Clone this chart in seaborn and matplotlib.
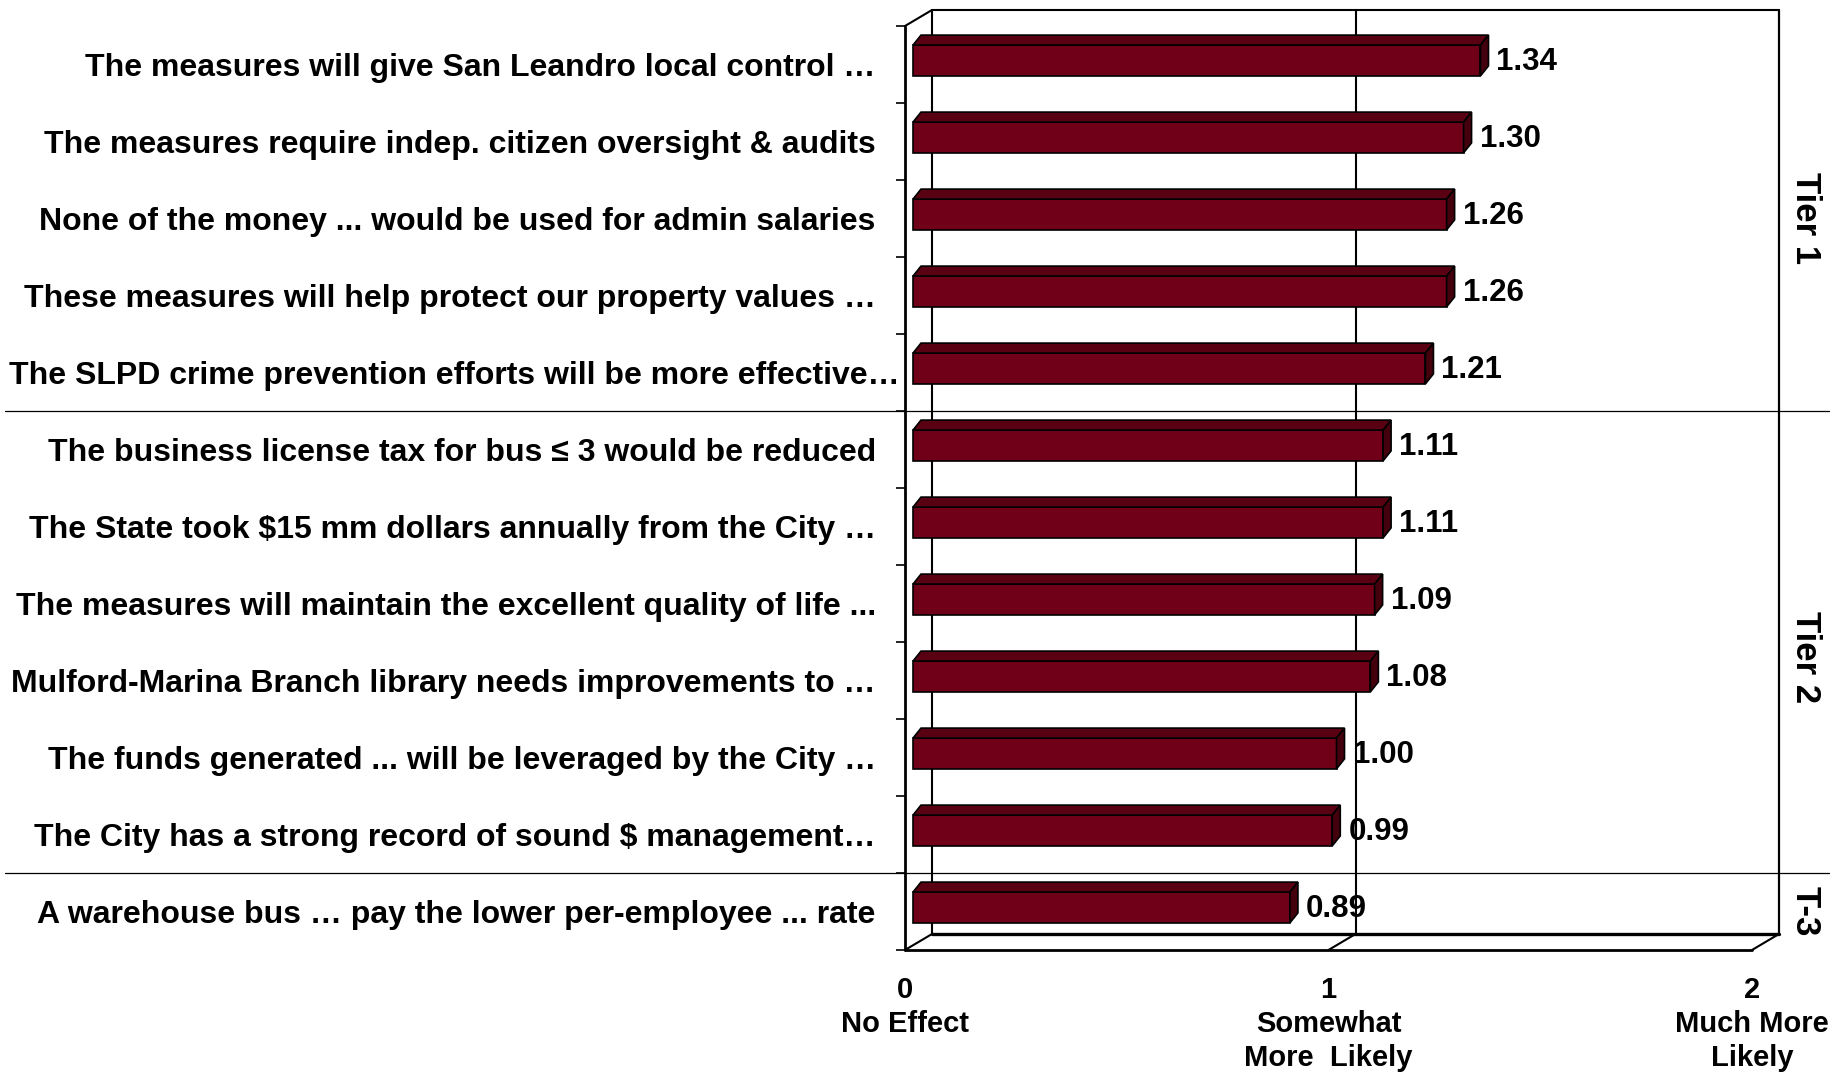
import numpy as np
import pandas as pd
import seaborn as sns
import matplotlib.pyplot as plt
import matplotlib.transforms as mtrans
from matplotlib.patches import Polygon
from matplotlib.transforms import ScaledTranslation

# Data
labels = [
    "The measures will give San Leandro local control …",
    "The measures require indep. citizen oversight & audits",
    "None of the money ... would be used for admin salaries",
    "These measures will help protect our property values …",
    "The SLPD crime prevention efforts will be more effective…",
    "The business license tax for bus ≤ 3 would be reduced",
    r"The State took \$15 mm dollars annually from the City …",
    "The measures will maintain the excellent quality of life ...",
    "Mulford-Marina Branch library needs improvements to …",
    "The funds generated ... will be leveraged by the City …",
    r"The City has a strong record of sound \$ management…",
    "A warehouse bus … pay the lower per-employee ... rate",
]
values = [1.34, 1.30, 1.26, 1.26, 1.21, 1.11, 1.11, 1.09, 1.08, 1.00, 0.99, 0.89]
tiers = ["Tier 1", "Tier 2", "T-3"]
tier_pos = [2.0, 7.7, 11.0]
tier_breaks = [4.5, 10.5]
xticks = [0, 1, 2]
xtick_labels = ["0\nNo Effect", "1\nSomewhat\nMore  Likely", "2\nMuch More\nLikely"]

sns.set_style("white")
plt.rcParams["font.family"] = ["Liberation Sans", "DejaVu Sans"]
plt.rcParams["font.weight"] = "bold"
plt.rcParams["text.color"] = "black"
plt.rcParams["xtick.color"] = "black"
plt.rcParams["ytick.color"] = "black"

FRONT = "#700018"
TOP = "#5a0013"
SIDE = "#45000e"

fig = plt.figure(figsize=(18.44, 10.75), dpi=100)
W, H = 1844, 1075
ax = fig.add_axes([905 / W, 1 - 950 / H, 847 / W, 924 / H])

df = pd.DataFrame({"label": labels, "value": values})
sns.barplot(data=df, x="value", y="label", orient="h", color=FRONT, saturation=1,
            width=0.4, edgecolor="black", linewidth=1.2, ax=ax, zorder=5)

ax.set_xlim(0, 2)
ax.set_ylim(11.5, -0.5)
for s in ax.spines.values():
    s.set_visible(False)

# pixel -> data conversions
px_x = 847 / 2
px_y = 924 / 12
sx, sy = 8 / px_x, 4 / px_y          # bar shift into the depth
dx, dy = 8 / px_x, 10 / px_y         # bar depth
bx, by = 27 / px_x, 16 / px_y        # back wall depth

bars = list(ax.patches)
for p in bars:
    p.set_x(p.get_x() + sx)
    p.set_y(p.get_y() - sy)
    x0, y0, w, h = p.get_x(), p.get_y(), p.get_width(), p.get_height()
    x1 = x0 + w
    top = [(x0, y0), (x1, y0), (x1 + dx, y0 - dy), (x0 + dx, y0 - dy)]
    side = [(x1, y0), (x1, y0 + h), (x1 + dx, y0 + h - dy), (x1 + dx, y0 - dy)]
    ax.add_patch(Polygon(top, closed=True, facecolor=TOP, edgecolor="black", lw=1.2, zorder=5))
    ax.add_patch(Polygon(side, closed=True, facecolor=SIDE, edgecolor="black", lw=1.2, zorder=5))

# value labels
for i, v in enumerate(values):
    ax.annotate(f"{v:.2f}", xy=(v, i), textcoords="offset pixels", xytext=(24, 3),
                ha="left", va="center", fontsize=22.5, fontweight="bold", zorder=7)

# 3D frame
k = dict(color="black", clip_on=False)
yt, yb = -0.5, 11.5
ax.plot([bx, bx], [yt - by, yb - by], lw=1.5, zorder=2, **k)
ax.plot([bx, 2 + bx], [yt - by, yt - by], lw=1.5, zorder=2, **k)
ax.plot([2 + bx, 2 + bx], [yt - by, yb - by], lw=1.6, zorder=2, **k)
ax.plot([1 + bx, 1 + bx], [yt - by, yb - by], lw=1.5, zorder=2, **k)
ax.plot([bx, 2 + bx], [yb - by, yb - by], lw=2.4, zorder=2, **k)
ax.plot([0, bx], [yt, yt - by], lw=1.5, zorder=2, **k)
ax.plot([0, bx], [yb, yb - by], lw=1.5, zorder=2, **k)
ax.plot([1, 1 + bx], [yb, yb - by], lw=1.5, zorder=2, **k)
ax.plot([2, 2 + bx], [yb, yb - by], lw=1.5, zorder=2, **k)
ax.plot([0, 0], [yt, yb], lw=2.0, zorder=6, **k)
ax.plot([0, 2], [yb, yb], lw=2.0, zorder=6, **k)

# tier separators across the whole figure
blend = mtrans.blended_transform_factory(fig.transFigure, ax.transData)
for b in tier_breaks:
    ax.plot([5 / W, 1829 / W], [b, b], transform=blend, color="black", lw=0.9,
            clip_on=False, zorder=3)
for t, pos in zip(tiers, tier_pos):
    ax.text(1805 / W, pos, t, transform=blend, rotation=270, ha="center", va="center",
            fontsize=25, fontweight="bold")

# ticks
ax.set_xticks(xticks)
ax.set_xticklabels(xtick_labels, fontsize=21, fontweight="bold", linespacing=1.27)
ax.tick_params(axis="x", length=0, pad=19)
ax.set_yticks(np.arange(-0.5, 12), minor=True)
ax.tick_params(axis="y", which="minor", left=True, length=6.5, width=1.2, direction="out", color="black")
ax.tick_params(axis="y", which="major", length=0, pad=21, labelsize=23)
for tl in ax.get_yticklabels():
    tl.set_fontweight("bold")
ax.set_xlabel("")
ax.set_ylabel("")

tl = ax.get_yticklabels()[4]
tl.set_transform(tl.get_transform() + ScaledTranslation(24 / 100, 0, fig.dpi_scale_trans))

fig.savefig("out.png", dpi=100)
